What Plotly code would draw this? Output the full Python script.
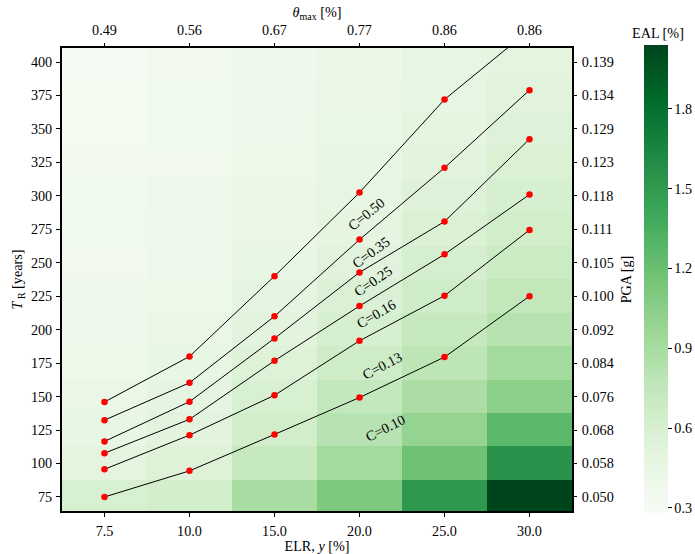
import plotly.graph_objects as go

# ---- data ----
elr = ["7.5", "10.0", "15.0", "20.0", "25.0", "30.0"]
theta_max = ["0.49", "0.56", "0.67", "0.77", "0.86", "0.86"]
tr_rows = [75, 100, 125, 150, 175, 200, 225, 250, 275, 300, 325, 350, 375, 400]
pga_labels = ["0.050", "0.058", "0.068", "0.076", "0.084", "0.092", "0.100",
              "0.105", "0.111", "0.118", "0.123", "0.129", "0.134", "0.139"]

# EAL [%] per TR row (rows) and ELR column (cols)
eal = [
    [0.60, 0.63, 0.90, 1.11, 1.51, 2.04],   # 75
    [0.51, 0.56, 0.72, 0.93, 1.18, 1.55],   # 100
    [0.46, 0.52, 0.65, 0.81, 1.00, 1.27],   # 125
    [0.44, 0.49, 0.60, 0.74, 0.88, 1.05],   # 150
    [0.42, 0.46, 0.56, 0.66, 0.78, 0.93],   # 175
    [0.40, 0.44, 0.52, 0.61, 0.72, 0.82],   # 200
    [0.38, 0.42, 0.49, 0.57, 0.66, 0.75],   # 225
    [0.37, 0.40, 0.46, 0.53, 0.62, 0.69],   # 250
    [0.36, 0.39, 0.44, 0.50, 0.58, 0.65],   # 275
    [0.35, 0.38, 0.43, 0.48, 0.55, 0.61],   # 300
    [0.34, 0.37, 0.42, 0.46, 0.52, 0.58],   # 325
    [0.33, 0.36, 0.41, 0.45, 0.50, 0.55],   # 350
    [0.32, 0.35, 0.40, 0.44, 0.48, 0.53],   # 375
    [0.31, 0.34, 0.39, 0.43, 0.47, 0.51],   # 400
]

c_labels = ["C=0.50", "C=0.35", "C=0.25", "C=0.16", "C=0.13", "C=0.10"]
c_curves = [
    [146, 180, 240, 302.5, 372, 424],
    [132.4, 160.3, 210, 267.3, 321, 379],
    [116.5, 146.2, 193.5, 242.8, 280.8, 342.4],
    [107.7, 133, 176.8, 217.7, 256.3, 301],
    [95.7, 121.2, 151, 191.7, 225.4, 274.5],
    [75, 94.5, 121.7, 149.3, 179.5, 225],
]
label_pos_x = [3.08, 3.14, 3.16, 3.19, 3.26, 3.30]
label_pos_y = [286.5, 257.8, 236.1, 211.7, 173, 126.8]
label_angle = [-39, -36, -34, -30, -28, -27]

FONT = "Liberation Serif"
FS = 14.2
xi = list(range(len(elr)))

fig = go.Figure()
fig.add_trace(go.Heatmap(
    x=xi, y=tr_rows, z=eal, colorscale="Greens", zmin=0.28, zmax=2.04,
    showscale=True,
    colorbar=dict(
        x=(644 - 62) / 510, xanchor="left", xpad=0, ypad=0,
        y=(511 - 279) / 463.3, yanchor="middle", len=468, lenmode="pixels",
        thickness=24,
        outlinewidth=0, ticks="outside", ticklen=4, tickwidth=1,
        tickcolor="black", tickvals=[0.3, 0.6, 0.9, 1.2, 1.5, 1.8],
        ticktext=["0.3", "0.6", "0.9", "1.2", "1.5", "1.8"],
        tickfont=dict(family=FONT, size=FS, color="black"),
    ),
    hoverinfo="skip",
))

for name, ys in zip(c_labels, c_curves):
    fig.add_trace(go.Scatter(
        x=xi, y=ys, mode="lines+markers", name=name, showlegend=False,
        line=dict(color="black", width=1),
        marker=dict(color="#ff0000", size=6.5),
        cliponaxis=True,
    ))

for t, lx, ly, ang in zip(c_labels, label_pos_x, label_pos_y, label_angle):
    fig.add_annotation(x=lx, y=ly, xref="x", yref="y", text=t, showarrow=False,
                       textangle=ang, font=dict(family=FONT, size=FS, color="black"))

# secondary axes carrier
fig.add_trace(go.Scatter(x=xi, y=tr_rows[:len(xi)], xaxis="x2", yaxis="y2",
                         mode="markers", marker=dict(opacity=0), showlegend=False,
                         hoverinfo="skip"))

fig.add_annotation(x=(658 - 62) / 510, y=(511 - 33) / 463.3, xref="paper", yref="paper",
                   xanchor="center", yanchor="middle",
                   text="EAL [%]", showarrow=False,
                   font=dict(family=FONT, size=FS, color="black"))

axis_common = dict(showgrid=False, zeroline=False, ticks="outside", ticklen=4,
                   tickwidth=1, tickcolor="black",
                   tickfont=dict(family=FONT, size=FS, color="black"))
xr = [-0.5, 5.5]
yr = [64.5, 410.5]

fig.update_layout(
    width=695, height=554,
    margin=dict(l=62, r=123, t=48, b=43, autoexpand=False),
    plot_bgcolor="white", paper_bgcolor="white",
    font=dict(family=FONT, size=FS, color="black"),
    xaxis=dict(range=xr, tickvals=xi, ticktext=elr, showline=True, mirror=True,
               linecolor="black", linewidth=2, ticklabelstandoff=2,
               title=dict(text="ELR, <i>y</i> [%]", standoff=0,
                          font=dict(family=FONT, size=FS)),
               **axis_common),
    yaxis=dict(range=yr, tickvals=tr_rows, ticktext=[str(v) for v in tr_rows],
               showline=True, mirror=True, linecolor="black", linewidth=2,
               ticklabelstandoff=1,
               title=dict(text="<i>T</i><sub> R</sub> [years]", standoff=5,
                          font=dict(family=FONT, size=FS)),
               **axis_common),
    xaxis2=dict(range=xr, overlaying="x", side="top", tickvals=xi, ticktext=theta_max,
                showline=False, anchor="y", ticklabelstandoff=2,
                title=dict(text="<i>θ</i><sub>max</sub> [%]", standoff=1,
                           font=dict(family=FONT, size=FS)),
                **axis_common),
    yaxis2=dict(range=yr, overlaying="y", side="right", tickvals=tr_rows,
                ticktext=pga_labels, showline=False, anchor="x", ticklabelstandoff=2,
                title=dict(text="PGA [g]", standoff=8, font=dict(family=FONT, size=FS)),
                **axis_common),
)

fig.write_html("out.html")
